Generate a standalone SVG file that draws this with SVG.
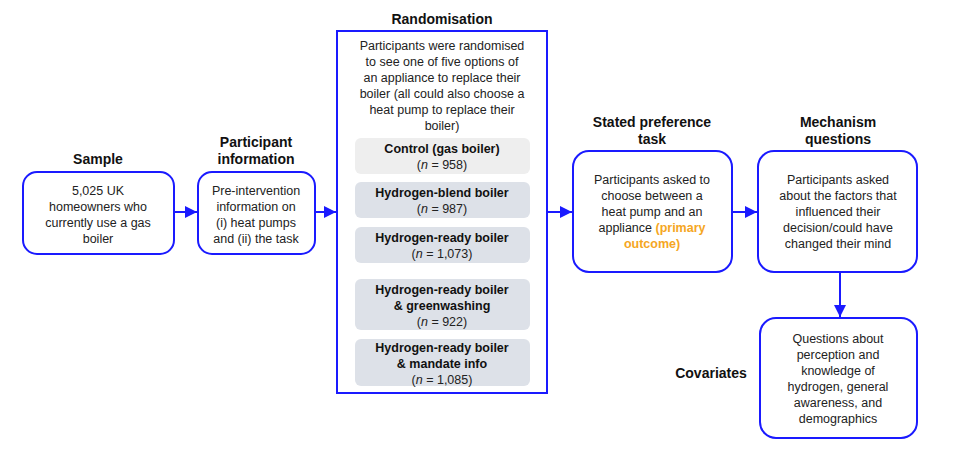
<svg xmlns="http://www.w3.org/2000/svg" width="958" height="453" viewBox="0 0 958 453">
<style>
text{font-family:"Liberation Sans",Arial,sans-serif;font-size:12.5px;fill:#222;text-anchor:middle}
.h{font-weight:bold;font-size:14px;fill:#111}
.b{font-weight:bold;fill:#111}
.box{fill:#fff;stroke:#1a1aff;stroke-width:2}
.c{stroke:#1a1aff;stroke-width:2;fill:none;marker-end:url(#a)}
.o{fill:#f5a623;font-weight:bold}
</style>
<defs><marker id="a" viewBox="0 0 10 10" refX="10" refY="5" markerWidth="6" markerHeight="6" orient="auto"><path d="M0,0L10,5L0,10z" fill="#1a1aff"/></marker></defs>
<rect width="958" height="453" fill="#fff"/>
<g id="sample">
<text class="h" x="98" y="164">Sample</text>
<rect class="box" x="23" y="172" width="151" height="82" rx="14"/>
<text x="98" y="195">5,025 UK</text><text x="98" y="211">homeowners who</text><text x="98" y="227">currently use a gas</text><text x="98" y="243">boiler</text>
</g>
<g id="info">
<text class="h" x="256" y="147">Participant</text><text class="h" x="256" y="164">information</text>
<rect class="box" x="198" y="172" width="117" height="82" rx="14"/>
<text x="256" y="195">Pre-intervention</text><text x="256" y="211">information on</text><text x="256" y="227">(i) heat pumps</text><text x="256" y="243">and (ii) the task</text>
</g>
<g id="rand">
<text class="h" x="442" y="24">Randomisation</text>
<rect class="box" x="337" y="31" width="210" height="362"/>
<text x="442" y="50">Participants were randomised</text><text x="442" y="66">to see one of five options of</text><text x="442" y="82">an appliance to replace their</text><text x="442" y="98">boiler (all could also choose a</text><text x="442" y="114">heat pump to replace their</text><text x="442" y="130">boiler)</text>
<rect x="355" y="138" width="175" height="36" rx="6" fill="#eeeeee"/>
<text class="b" x="442" y="153">Control (gas boiler)</text><text x="442" y="169">(<tspan font-style="italic">n</tspan> = 958)</text>
<rect x="355" y="182" width="175" height="36" rx="6" fill="#dde1e8"/>
<text class="b" x="442" y="197">Hydrogen-blend boiler</text><text x="442" y="213">(<tspan font-style="italic">n</tspan> = 987)</text>
<rect x="355" y="227" width="175" height="36" rx="6" fill="#dde1e8"/>
<text class="b" x="442" y="242">Hydrogen-ready boiler</text><text x="442" y="258">(<tspan font-style="italic">n</tspan> = 1,073)</text>
<rect x="355" y="279" width="175" height="51" rx="6" fill="#dde1e8"/>
<text class="b" x="442" y="294">Hydrogen-ready boiler</text><text class="b" x="442" y="310">&amp; greenwashing</text><text x="442" y="326">(<tspan font-style="italic">n</tspan> = 922)</text>
<rect x="355" y="339" width="175" height="47" rx="6" fill="#dde1e8"/>
<text class="b" x="442" y="352">Hydrogen-ready boiler</text><text class="b" x="442" y="368">&amp; mandate info</text><text x="442" y="384">(<tspan font-style="italic">n</tspan> = 1,085)</text>
</g>
<g id="stated">
<text class="h" x="652" y="127">Stated preference</text><text class="h" x="652" y="144">task</text>
<rect class="box" x="573" y="151" width="159" height="121" rx="16"/>
<text x="652" y="184">Participants asked to</text><text x="652" y="200">choose between a</text><text x="652" y="216">heat pump and an</text><text x="652" y="232">appliance <tspan class="o">(primary</tspan></text><text x="652" y="248" class="o">outcome)</text>
</g>
<g id="mech">
<text class="h" x="838" y="127">Mechanism</text><text class="h" x="838" y="144">questions</text>
<rect class="box" x="758" y="151" width="159" height="121" rx="16"/>
<text x="838" y="184">Participants asked</text><text x="838" y="200">about the factors that</text><text x="838" y="216">influenced their</text><text x="838" y="232">decision/could have</text><text x="838" y="248">changed their mind</text>
</g>
<g id="cov">
<text class="h" x="711" y="378">Covariates</text>
<rect class="box" x="760" y="318" width="157" height="120" rx="16"/>
<text x="838" y="343">Questions about</text><text x="838" y="359">perception and</text><text x="838" y="375">knowledge of</text><text x="838" y="391">hydrogen, general</text><text x="838" y="407">awareness, and</text><text x="838" y="423">demographics</text>
</g>
<g id="connectors">
<path class="c" d="M174,212H197"/>
<path class="c" d="M315,212H336"/>
<path class="c" d="M547,212H572"/>
<path class="c" d="M732,212H757"/>
<path class="c" d="M840,272V317"/>
</g>
</svg>
